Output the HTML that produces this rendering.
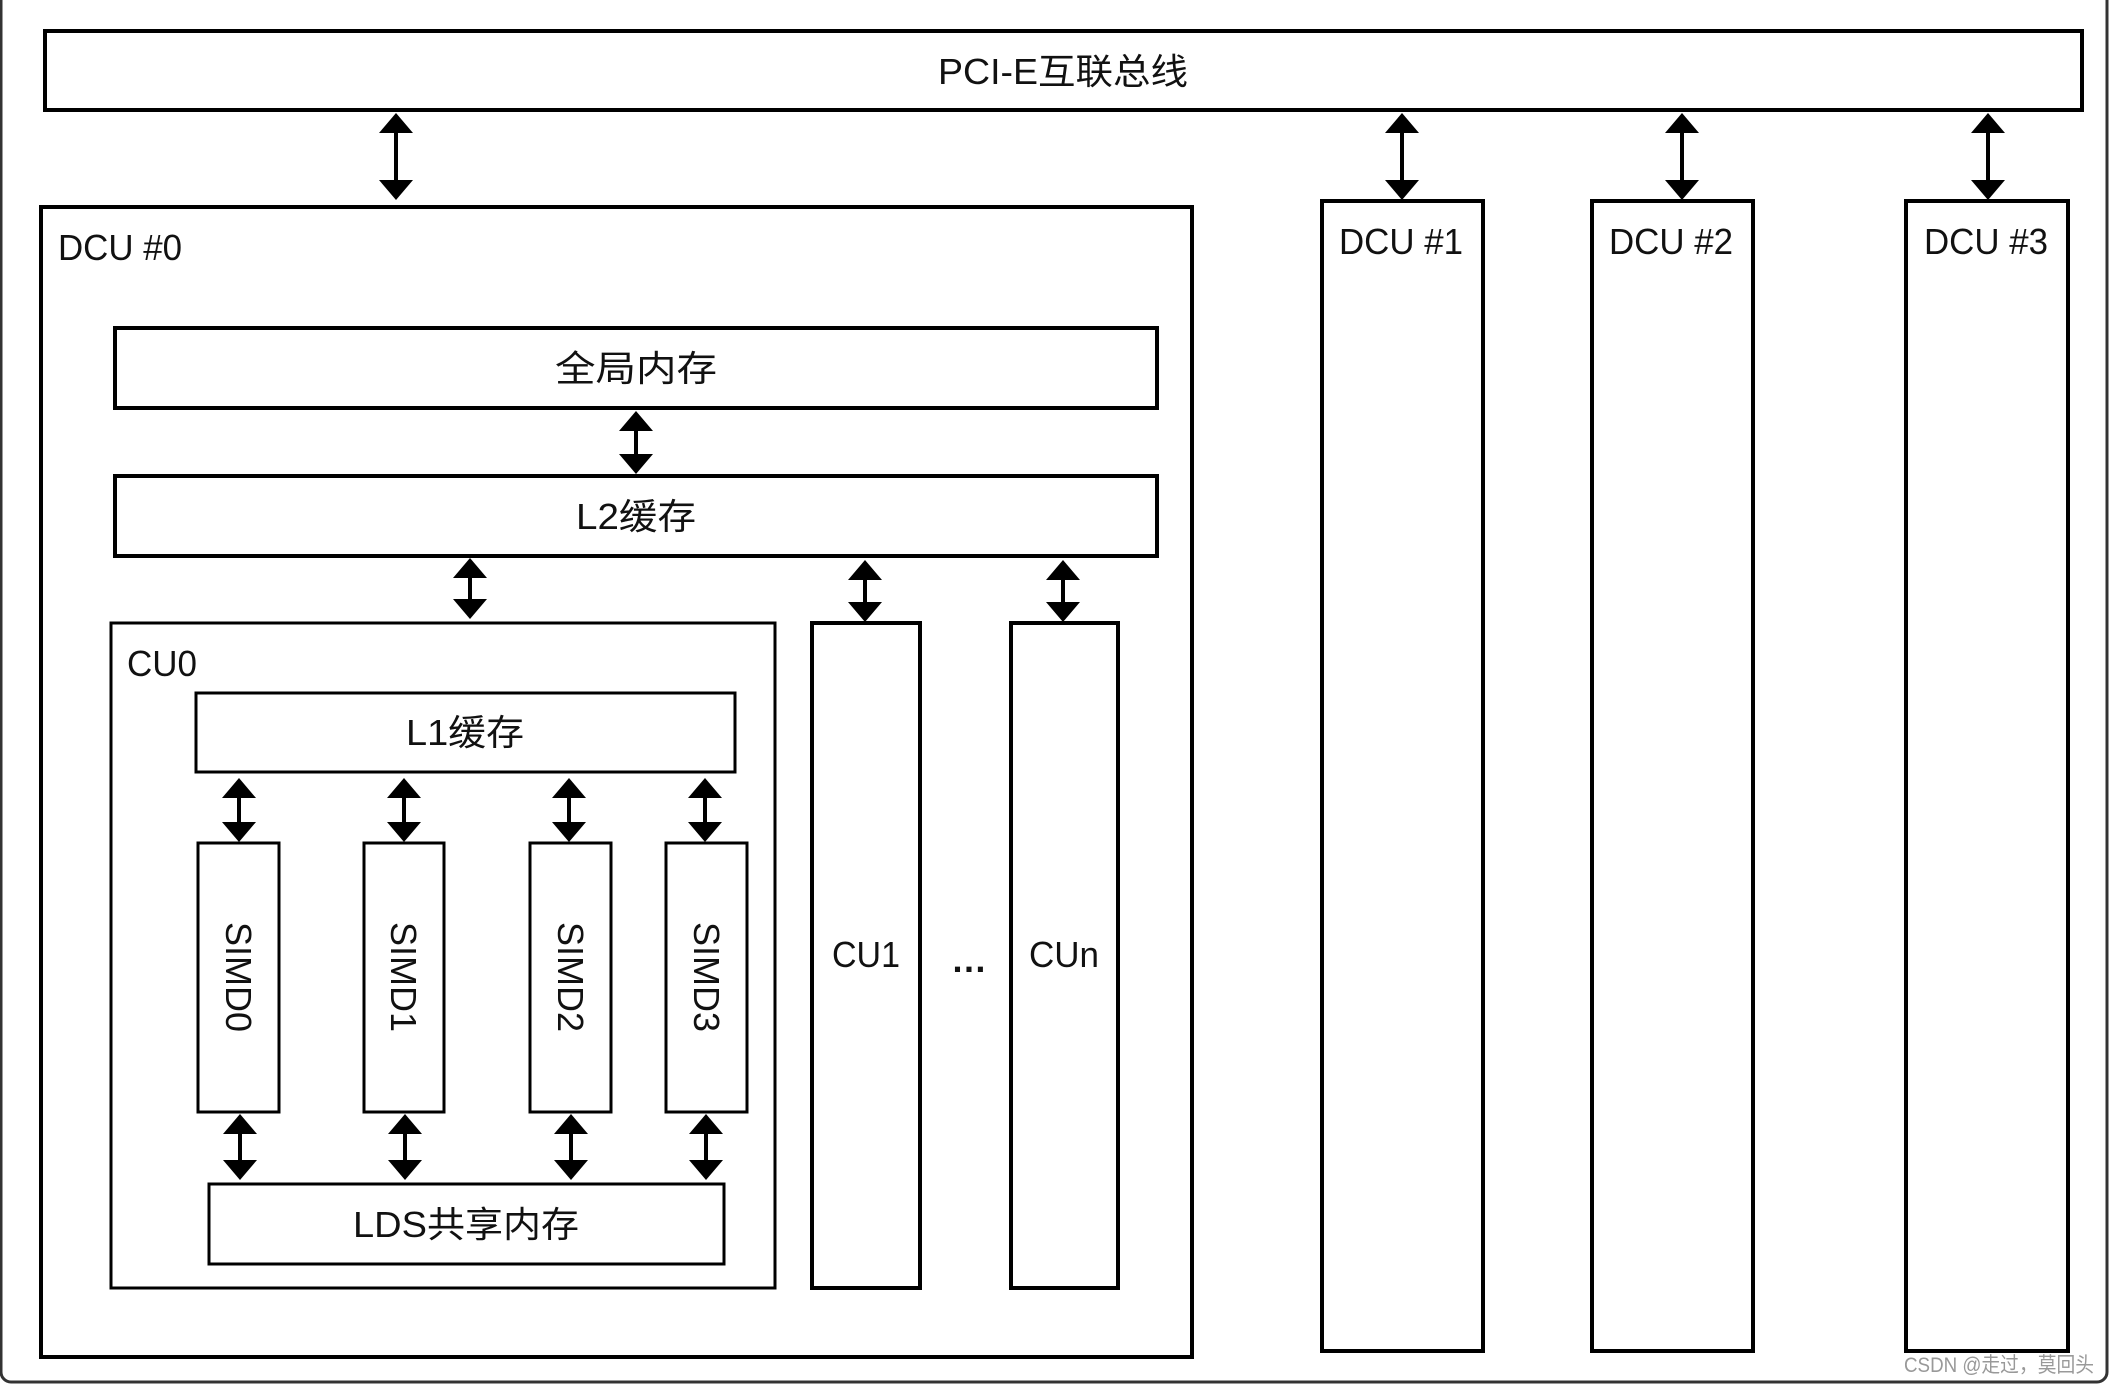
<!DOCTYPE html>
<html><head><meta charset="utf-8"><style>
html,body{margin:0;padding:0;background:#fff;}
svg{display:block;}
text{font-family:"Liberation Sans","Noto Sans CJK SC",sans-serif;fill:#111;}
</style></head><body>
<svg width="2110" height="1384" viewBox="0 0 2110 1384" xmlns="http://www.w3.org/2000/svg">
<rect x="1" y="-10" width="2106" height="1392" rx="10" fill="none" stroke="#333" stroke-width="3"/>
<g fill="none" stroke="#000" stroke-width="4">
<rect x="45" y="31" width="2037" height="79"/>
<rect x="41" y="207" width="1151" height="1150"/>
<rect x="1322" y="201" width="161" height="1150"/>
<rect x="1592" y="201" width="161" height="1150"/>
<rect x="1906" y="201" width="162" height="1150"/>
<rect x="115" y="328" width="1042" height="80"/>
<rect x="115" y="476" width="1042" height="80"/>
<rect x="111" y="623" width="664" height="665" stroke-width="3"/>
<rect x="812" y="623" width="108" height="665"/>
<rect x="1011" y="623" width="107" height="665"/>
<g stroke-width="3">
<rect x="196" y="693" width="539" height="79"/>
<rect x="198" y="843" width="81" height="269"/>
<rect x="364" y="843" width="80" height="269"/>
<rect x="530" y="843" width="81" height="269"/>
<rect x="666" y="843" width="81" height="269"/>
<rect x="209" y="1184" width="515" height="80"/>
</g>
</g>
<g stroke="#000" stroke-width="4">
<line x1="396" y1="123" x2="396" y2="190"/>
<line x1="1402" y1="123" x2="1402" y2="190"/>
<line x1="1682" y1="123" x2="1682" y2="190"/>
<line x1="1988" y1="123" x2="1988" y2="190"/>
<line x1="636" y1="421" x2="636" y2="464"/>
<line x1="470" y1="568" x2="470" y2="609"/>
<line x1="865" y1="570" x2="865" y2="612"/>
<line x1="1063" y1="570" x2="1063" y2="612"/>
<line x1="239" y1="788" x2="239" y2="832"/>
<line x1="404" y1="788" x2="404" y2="832"/>
<line x1="569" y1="788" x2="569" y2="832"/>
<line x1="705" y1="788" x2="705" y2="832"/>
<line x1="240" y1="1124" x2="240" y2="1170"/>
<line x1="405" y1="1124" x2="405" y2="1170"/>
<line x1="571" y1="1124" x2="571" y2="1170"/>
<line x1="706" y1="1124" x2="706" y2="1170"/>
</g>
<g fill="#000">
<polygon points="396,113 413,133 379,133"/><polygon points="396,200 413,180 379,180"/>
<polygon points="1402,113 1419,133 1385,133"/><polygon points="1402,200 1419,180 1385,180"/>
<polygon points="1682,113 1699,133 1665,133"/><polygon points="1682,200 1699,180 1665,180"/>
<polygon points="1988,113 2005,133 1971,133"/><polygon points="1988,200 2005,180 1971,180"/>
<polygon points="636,411 653,431 619,431"/><polygon points="636,474 653,454 619,454"/>
<polygon points="470,558 487,578 453,578"/><polygon points="470,619 487,599 453,599"/>
<polygon points="865,560 882,580 848,580"/><polygon points="865,622 882,602 848,602"/>
<polygon points="1063,560 1080,580 1046,580"/><polygon points="1063,622 1080,602 1046,602"/>
<polygon points="239,778 256,798 222,798"/><polygon points="239,842 256,822 222,822"/>
<polygon points="404,778 421,798 387,798"/><polygon points="404,842 421,822 387,822"/>
<polygon points="569,778 586,798 552,798"/><polygon points="569,842 586,822 552,822"/>
<polygon points="705,778 722,798 688,798"/><polygon points="705,842 722,822 688,822"/>
<polygon points="240,1114 257,1134 223,1134"/><polygon points="240,1180 257,1160 223,1160"/>
<polygon points="405,1114 422,1134 388,1134"/><polygon points="405,1180 422,1160 388,1160"/>
<polygon points="571,1114 588,1134 554,1134"/><polygon points="571,1180 588,1160 554,1160"/>
<polygon points="706,1114 723,1134 689,1134"/><polygon points="706,1180 723,1160 689,1160"/>
</g>
<g font-size="36">
<text x="1063" y="84" text-anchor="middle" textLength="250" lengthAdjust="spacingAndGlyphs">PCI-E互联总线</text>
<text x="58" y="260" textLength="124" lengthAdjust="spacingAndGlyphs">DCU #0</text>
<text x="1339" y="254" textLength="124" lengthAdjust="spacingAndGlyphs">DCU #1</text>
<text x="1609" y="254" textLength="124" lengthAdjust="spacingAndGlyphs">DCU #2</text>
<text x="1924" y="254" textLength="124" lengthAdjust="spacingAndGlyphs">DCU #3</text>
<text x="636" y="381" text-anchor="middle" textLength="162" lengthAdjust="spacingAndGlyphs">全局内存</text>
<text x="636" y="529" text-anchor="middle" textLength="120" lengthAdjust="spacingAndGlyphs">L2缓存</text>
<text x="127" y="676" textLength="70" lengthAdjust="spacingAndGlyphs">CU0</text>
<text x="465" y="745" text-anchor="middle" textLength="118" lengthAdjust="spacingAndGlyphs">L1缓存</text>
<text x="866" y="967" text-anchor="middle" textLength="68" lengthAdjust="spacingAndGlyphs">CU1</text>
<text x="1064" y="967" text-anchor="middle" textLength="70" lengthAdjust="spacingAndGlyphs">CUn</text>
<text x="969" y="972" text-anchor="middle" font-weight="bold">…</text>
<text x="466" y="1237" text-anchor="middle" textLength="226" lengthAdjust="spacingAndGlyphs">LDS共享内存</text>
<text transform="translate(226,977) rotate(90)" text-anchor="middle" textLength="110" lengthAdjust="spacingAndGlyphs">SIMD0</text>
<text transform="translate(391,977) rotate(90)" text-anchor="middle" textLength="110" lengthAdjust="spacingAndGlyphs">SIMD1</text>
<text transform="translate(558,977) rotate(90)" text-anchor="middle" textLength="110" lengthAdjust="spacingAndGlyphs">SIMD2</text>
<text transform="translate(694,977) rotate(90)" text-anchor="middle" textLength="110" lengthAdjust="spacingAndGlyphs">SIMD3</text>
</g>
<text x="1904" y="1372" font-size="21" style="fill:#999" textLength="190" lengthAdjust="spacingAndGlyphs">CSDN @走过，莫回头</text>
</svg>
</body></html>
